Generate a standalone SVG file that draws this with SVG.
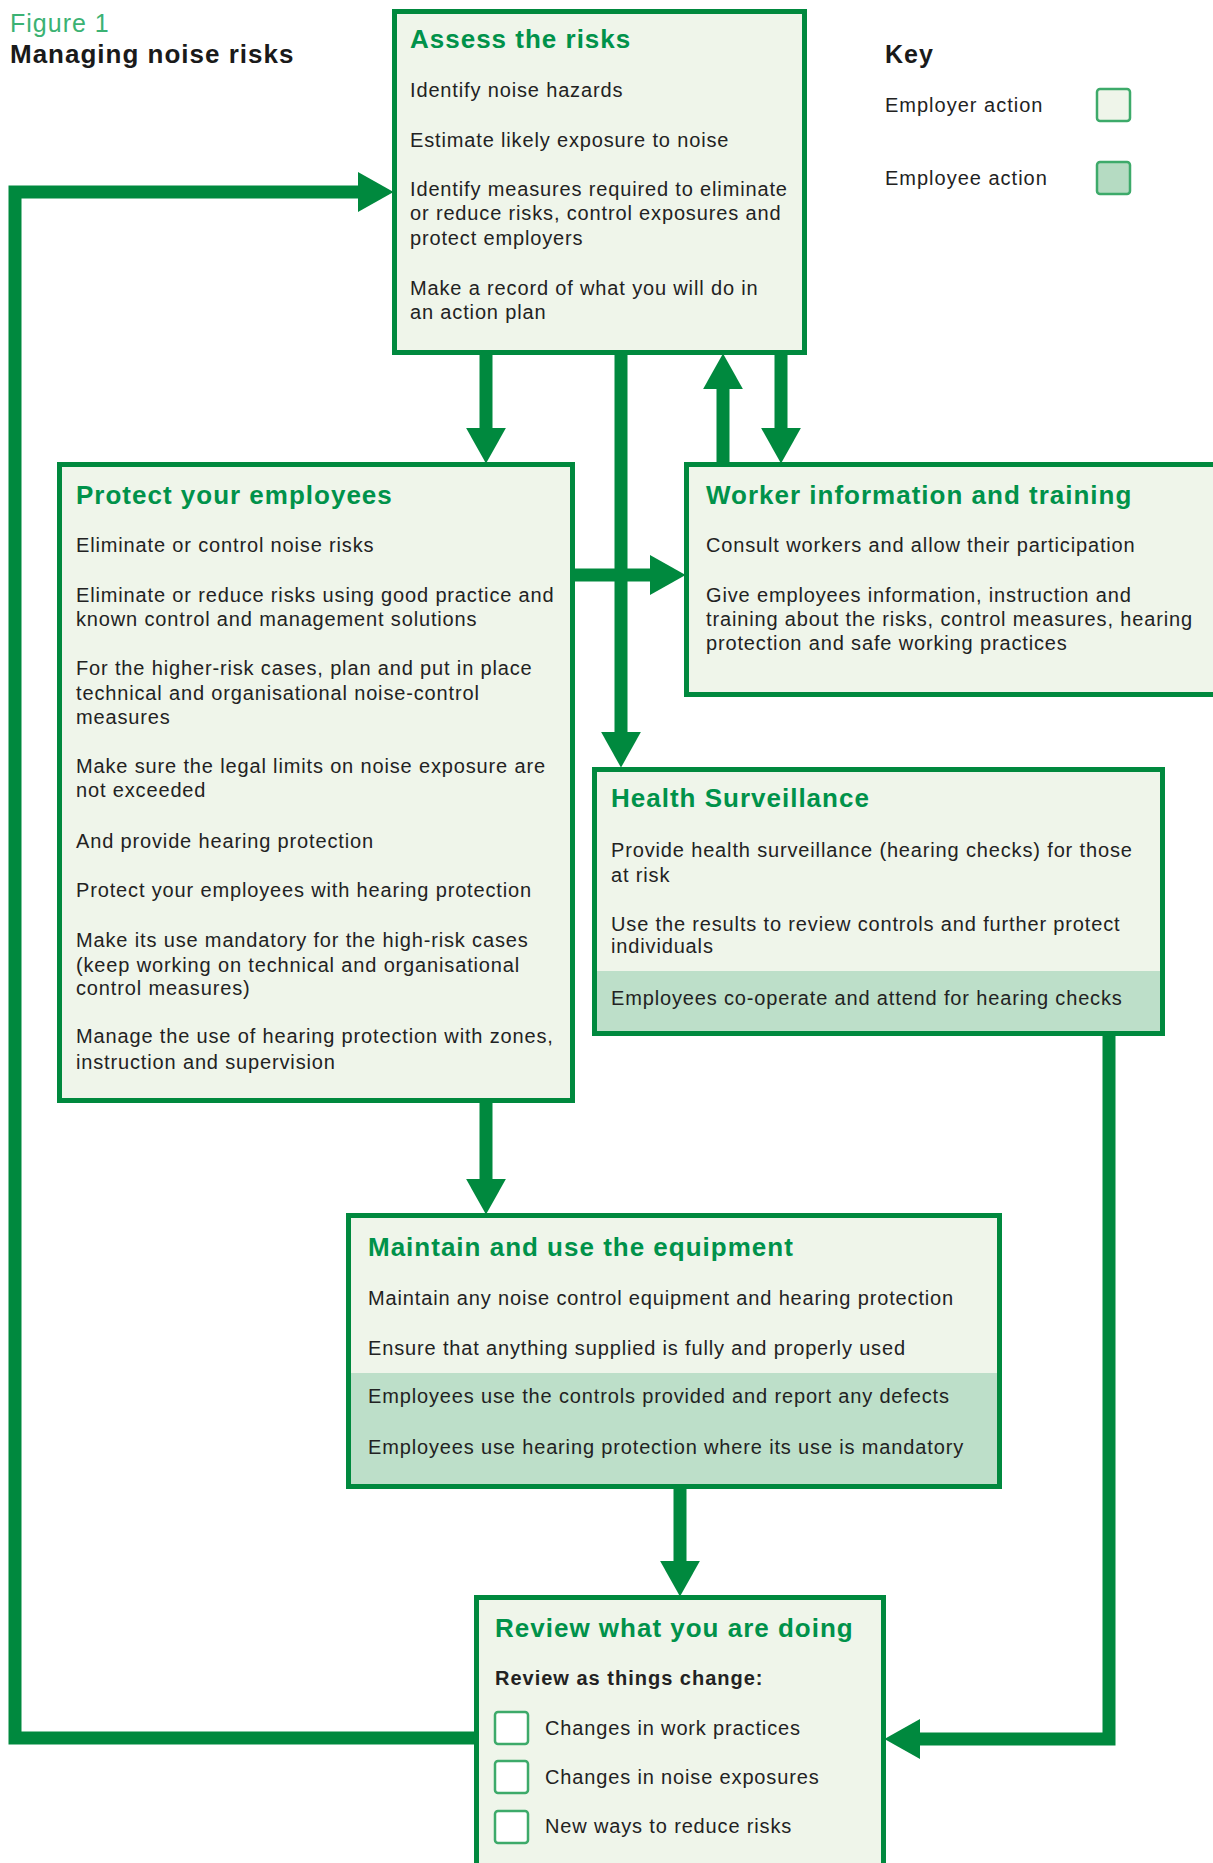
<svg xmlns="http://www.w3.org/2000/svg" width="1213" height="1863" viewBox="0 0 1213 1863">
<style>
  .bg{fill:#ffffff}
  .box{fill:#eff5ea;stroke:none}
  .emp{fill:#bddfc9;stroke:none}
  .border{fill:none;stroke:#00893e;stroke-width:5}
  .conn{fill:none;stroke:#00893e;stroke-width:13;stroke-linejoin:miter;stroke-linecap:butt}
  .t{font-family:"Liberation Sans",Arial,Helvetica,sans-serif;font-size:20px;letter-spacing:0.85px;fill:#222222}
  .h{font-family:"Liberation Sans",Arial,Helvetica,sans-serif;font-size:26px;font-weight:bold;letter-spacing:1px;fill:#00924a}
  .sub{font-family:"Liberation Sans",Arial,Helvetica,sans-serif;font-size:20px;font-weight:bold;letter-spacing:1px;fill:#222222}
  .chk{fill:#ffffff;stroke:#3daa6a;stroke-width:2.5}
  .key1{fill:#eff5ea;stroke:#3daa6a;stroke-width:2.5}
  .key2{fill:#b5dbc2;stroke:#3daa6a;stroke-width:2.5}
</style>
<defs>
  <marker id="ah" markerUnits="userSpaceOnUse" markerWidth="36" markerHeight="40" viewBox="0 0 34 38" refX="4" refY="19" orient="auto">
    <path d="M0,0 L34,19 L0,38 Z" fill="#00893e"/>
  </marker>
</defs>
<rect class="bg" x="0" y="0" width="1213" height="1863"/>

<g id="header">
  <text x="10" y="32" style="font-family:'Liberation Sans',Arial,sans-serif;font-size:25px;letter-spacing:1px;fill:#3bb273">Figure 1</text>
  <text x="10" y="63" style="font-family:'Liberation Sans',Arial,sans-serif;font-size:26px;font-weight:bold;letter-spacing:1px;fill:#1a1a1a">Managing noise risks</text>
</g>

<g id="key">
  <text x="885" y="63" style="font-family:'Liberation Sans',Arial,sans-serif;font-size:25px;font-weight:bold;letter-spacing:1px;fill:#1a1a1a">Key</text>
  <text class="t" x="885" y="112" style="letter-spacing:1px">Employer action</text>
  <rect class="key1" x="1097" y="89" width="33" height="32" rx="3"/>
  <text class="t" x="885" y="185" style="letter-spacing:1px">Employee action</text>
  <rect class="key2" x="1097" y="162" width="33" height="32" rx="3"/>
</g>

<g id="connectors">
  <path class="conn" d="M474,1738 H15 V192 H362" marker-end="url(#ah)"/>
  <path class="conn" d="M486,355 V432" marker-end="url(#ah)"/>
  <path class="conn" d="M621,355 V736" marker-end="url(#ah)"/>
  <path class="conn" d="M723,462 V385" marker-end="url(#ah)"/>
  <path class="conn" d="M781,355 V432" marker-end="url(#ah)"/>
  <path class="conn" d="M574,575 H654" marker-end="url(#ah)"/>
  <path class="conn" d="M486,1103 V1183" marker-end="url(#ah)"/>
  <path class="conn" d="M680,1489 V1565" marker-end="url(#ah)"/>
  <path class="conn" d="M1109,1036 V1739 H916" marker-end="url(#ah)"/>
</g>

<g id="assess">
  <rect class="box" x="394.5" y="11.5" width="410" height="341"/>
  <rect class="border" x="394.5" y="11.5" width="410" height="341"/>
  <text class="h" x="410" y="48">Assess the risks</text>
  <text class="t" x="410" y="97">Identify noise hazards</text>
  <text class="t" x="410" y="147">Estimate likely exposure to noise</text>
  <text class="t" x="410" y="196">Identify measures required to eliminate</text>
  <text class="t" x="410" y="220">or reduce risks, control exposures and</text>
  <text class="t" x="410" y="245">protect employers</text>
  <text class="t" x="410" y="295">Make a record of what you will do in</text>
  <text class="t" x="410" y="319">an action plan</text>
</g>

<g id="protect">
  <rect class="box" x="59.5" y="464.5" width="513" height="636"/>
  <rect class="border" x="59.5" y="464.5" width="513" height="636"/>
  <text class="h" x="76" y="504">Protect your employees</text>
  <text class="t" x="76" y="552">Eliminate or control noise risks</text>
  <text class="t" x="76" y="602">Eliminate or reduce risks using good practice and</text>
  <text class="t" x="76" y="626">known control and management solutions</text>
  <text class="t" x="76" y="675">For the higher-risk cases, plan and put in place</text>
  <text class="t" x="76" y="700">technical and organisational noise-control</text>
  <text class="t" x="76" y="724">measures</text>
  <text class="t" x="76" y="773">Make sure the legal limits on noise exposure are</text>
  <text class="t" x="76" y="797">not exceeded</text>
  <text class="t" x="76" y="848">And provide hearing protection</text>
  <text class="t" x="76" y="897">Protect your employees with hearing protection</text>
  <text class="t" x="76" y="947">Make its use mandatory for the high-risk cases</text>
  <text class="t" x="76" y="972">(keep working on technical and organisational</text>
  <text class="t" x="76" y="995">control measures)</text>
  <text class="t" x="76" y="1043">Manage the use of hearing protection with zones,</text>
  <text class="t" x="76" y="1069">instruction and supervision</text>
</g>

<g id="worker">
  <rect class="box" x="686.5" y="464.5" width="540" height="230"/>
  <rect class="border" x="686.5" y="464.5" width="540" height="230"/>
  <text class="h" x="706" y="504">Worker information and training</text>
  <text class="t" x="706" y="552">Consult workers and allow their participation</text>
  <text class="t" x="706" y="602">Give employees information, instruction and</text>
  <text class="t" x="706" y="626">training about the risks, control measures, hearing</text>
  <text class="t" x="706" y="650">protection and safe working practices</text>
</g>

<g id="health">
  <rect class="box" x="594.5" y="769.5" width="568" height="264"/>
  <rect class="emp" x="597" y="971" width="563" height="60"/>
  <rect class="border" x="594.5" y="769.5" width="568" height="264"/>
  <text class="h" x="611" y="807">Health Surveillance</text>
  <text class="t" x="611" y="857">Provide health surveillance (hearing checks) for those</text>
  <text class="t" x="611" y="882">at risk</text>
  <text class="t" x="611" y="931">Use the results to review controls and further protect</text>
  <text class="t" x="611" y="953">individuals</text>
  <text class="t" x="611" y="1005">Employees co-operate and attend for hearing checks</text>
</g>

<g id="maintain">
  <rect class="box" x="348.5" y="1215.5" width="651" height="271"/>
  <rect class="emp" x="351" y="1373" width="646" height="111"/>
  <rect class="border" x="348.5" y="1215.5" width="651" height="271"/>
  <text class="h" x="368" y="1256">Maintain and use the equipment</text>
  <text class="t" x="368" y="1305">Maintain any noise control equipment and hearing protection</text>
  <text class="t" x="368" y="1355">Ensure that anything supplied is fully and properly used</text>
  <text class="t" x="368" y="1403">Employees use the controls provided and report any defects</text>
  <text class="t" x="368" y="1454">Employees use hearing protection where its use is mandatory</text>
</g>

<g id="review">
  <rect class="box" x="476.5" y="1597.5" width="407" height="300"/>
  <rect class="border" x="476.5" y="1597.5" width="407" height="300"/>
  <text class="h" x="495" y="1637">Review what you are doing</text>
  <text class="sub" x="495" y="1685">Review as things change:</text>
  <rect class="chk" x="495" y="1712" width="33" height="32" rx="3"/>
  <text class="t" x="545" y="1735">Changes in work practices</text>
  <rect class="chk" x="495" y="1761" width="33" height="32" rx="3"/>
  <text class="t" x="545" y="1784">Changes in noise exposures</text>
  <rect class="chk" x="495" y="1811" width="33" height="32" rx="3"/>
  <text class="t" x="545" y="1833">New ways to reduce risks</text>
</g>
</svg>
